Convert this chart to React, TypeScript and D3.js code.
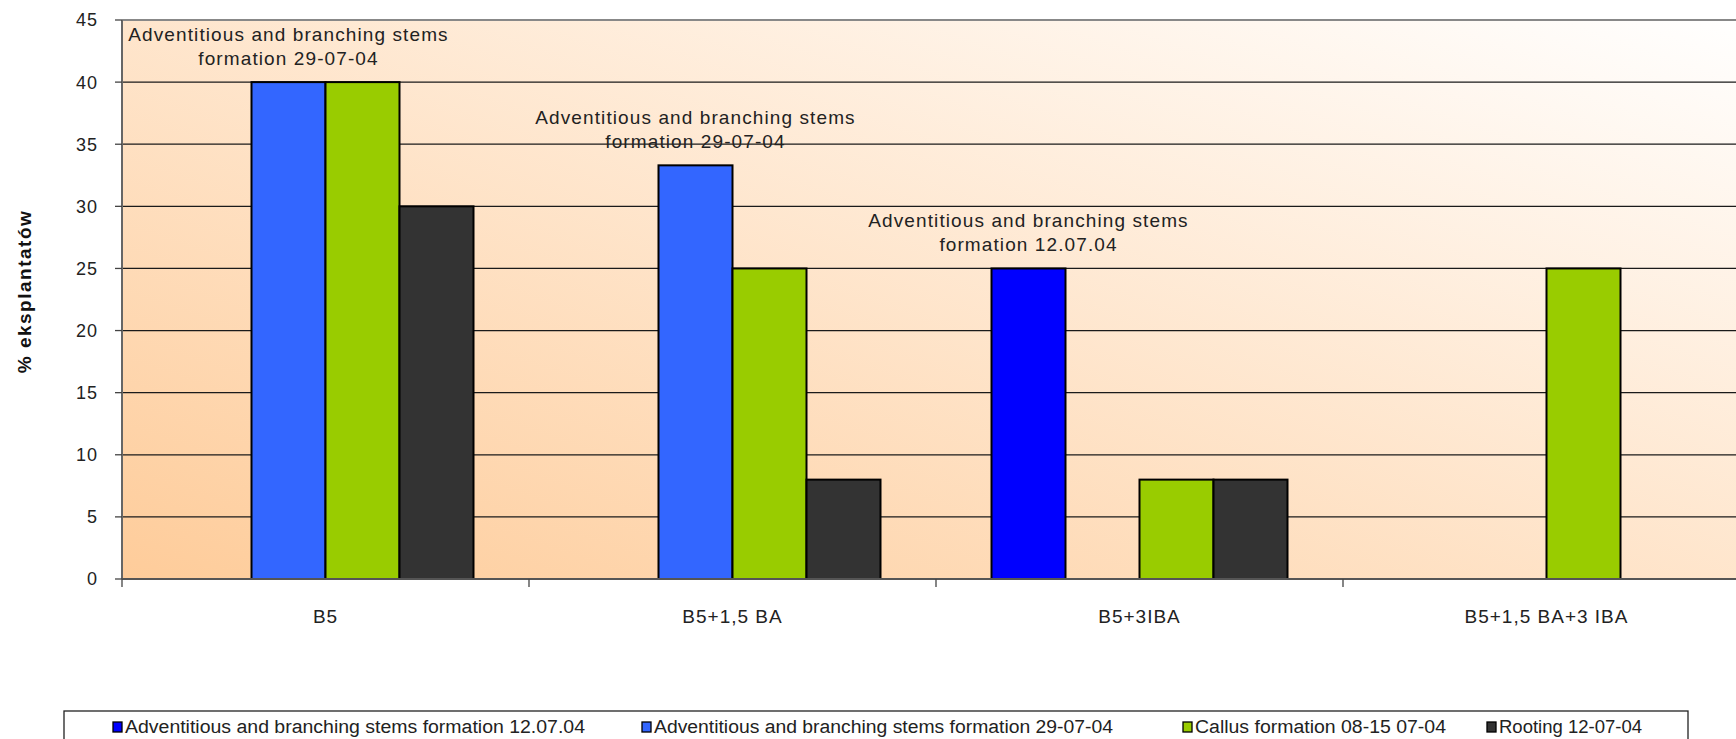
import React from "react";
import * as d3 from "d3";

const categories = ["B5", "B5+1,5 BA", "B5+3IBA", "B5+1,5 BA+3 IBA"];
const seriesNames = [
  "Adventitious and branching stems formation 12.07.04",
  "Adventitious and branching stems formation 29-07-04",
  "Callus formation 08-15 07-04",
  "Rooting 12-07-04",
];
const seriesAdv1207 = [0, 0, 25, 0];
const seriesAdv2907 = [40, 33.3, 0, 0];
const seriesCallus = [40, 25, 8, 25];
const seriesRooting = [30, 8, 8, 0];
const seriesValues = [seriesAdv1207, seriesAdv2907, seriesCallus, seriesRooting];
const seriesColors = ["#0000FF", "#3366FF", "#99CC00", "#333333"];
const yTicks = [0, 5, 10, 15, 20, 25, 30, 35, 40, 45];
// annotations: [seriesIndex, categoryIndex, line1, line2]
const annotations: [number, number, string, string][] = [
  [1, 0, "Adventitious and branching stems", "formation 29-07-04"],
  [1, 1, "Adventitious and branching stems", "formation 29-07-04"],
  [0, 2, "Adventitious and branching stems", "formation 12.07.04"],
];

const W = 1736;
const H = 739;
const left = 122;
const top = 20;
const bottom = 579;
const catW = 407;

export default function App() {
  const x = d3
    .scaleBand<string>()
    .domain(categories)
    .range([left, left + catW * categories.length])
    .padding(0);
  const bw = x.bandwidth();
  const barW = bw / 5.5;
  const inner = d3
    .scaleBand<number>()
    .domain([0, 1, 2, 3])
    .range([barW * 0.75, bw - barW * 0.75])
    .padding(0);
  const y = d3.scaleLinear().domain([0, 45]).range([bottom, top]);
  const right = W + 20;
  const font = "'Liberation Sans', Arial, sans-serif";

  const legendMarkX = [113, 642, 1183, 1487];
  const legendTextEnd = [585, 1113, 1446, 1642];

  return (
    <svg
      width={W}
      height={H}
      style={{ position: "absolute", left: 0, top: 0, display: "block" }}
      fontFamily={font}
    >
      <defs>
        <linearGradient id="bg" x1="0" y1="1" x2="1" y2="0">
          <stop offset="0" stopColor="#FECC9A" />
          <stop offset="1" stopColor="#FFFFFF" />
        </linearGradient>
      </defs>
      <rect x={0} y={0} width={W} height={H} fill="#fff" />
      <rect x={left} y={top} width={right - left} height={bottom - top} fill="url(#bg)" />
      {/* grid lines */}
      {yTicks
        .filter((t) => t > 0 && t < 45)
        .map((t) => (
          <line key={t} x1={left} x2={right} y1={y(t)} y2={y(t)} stroke="#1a1a1a" strokeWidth={1.3} />
        ))}
      <line x1={left} x2={right} y1={y(45)} y2={y(45)} stroke="#888" strokeWidth={2} />
      {/* bars */}
      {seriesValues.map((vals, si) =>
        vals.map((v, ci) =>
          v > 0 ? (
            <rect
              key={`${si}-${ci}`}
              x={(x(categories[ci]) as number) + (inner(si) as number)}
              y={y(v)}
              width={inner.bandwidth()}
              height={y(0) - y(v)}
              fill={seriesColors[si]}
              stroke="#000"
              strokeWidth={2}
            />
          ) : null
        )
      )}
      {/* axes */}
      <line x1={left} x2={left} y1={top} y2={bottom} stroke="#666" strokeWidth={2} />
      <line x1={left} x2={right} y1={bottom} y2={bottom} stroke="#555" strokeWidth={2} />
      {yTicks.map((t) => (
        <g key={t}>
          <line x1={left - 7} x2={left} y1={y(t)} y2={y(t)} stroke="#444" strokeWidth={1.3} />
          <text x={98} y={y(t)} dy="0.36em" textAnchor="end" fontSize={18} letterSpacing={1} fill="#222">
            {t}
          </text>
        </g>
      ))}
      {categories.map((c) => (
        <line
          key={"t" + c}
          x1={x(c) as number}
          x2={x(c) as number}
          y1={bottom}
          y2={bottom + 8}
          stroke="#444"
          strokeWidth={1.3}
        />
      ))}
      {categories.map((c) => (
        <text
          key={c}
          x={(x(c) as number) + bw / 2}
          y={623}
          textAnchor="middle"
          fontSize={19}
          letterSpacing={1}
          fill="#222"
        >
          {c}
        </text>
      ))}
      <text
        transform={`translate(31,${(top + bottom) / 2 - 8}) rotate(-90)`}
        textAnchor="middle"
        fontSize={19}
        letterSpacing={1.5}
        fontWeight="bold"
        fill="#111"
      >
        % eksplantatów
      </text>
      {/* annotations */}
      {annotations.map(([si, ci, l1, l2], k) => {
        const cx = (x(categories[ci]) as number) + (inner(si) as number) + inner.bandwidth() / 2;
        const yt = y(seriesValues[si][ci]);
        return (
          <g key={"a" + k} fontSize={19} letterSpacing={1.1} fill="#222" textAnchor="middle">
            <text x={cx} y={yt - 41}>{l1}</text>
            <text x={cx} y={yt - 17}>{l2}</text>
          </g>
        );
      })}
      {/* legend */}
      <rect x={64} y={711} width={1624} height={40} fill="#fff" stroke="#222" strokeWidth={1.3} />
      {seriesNames.map((n, i) => (
        <g key={n}>
          <rect x={legendMarkX[i]} y={722} width={9} height={10} fill={seriesColors[i]} stroke="#000" strokeWidth={1.3} />
          <text
            x={legendMarkX[i] + 12}
            y={733}
            fontSize={18}
            fill="#222"
            textLength={legendTextEnd[i] - legendMarkX[i] - 12}
            lengthAdjust="spacingAndGlyphs"
          >
            {n}
          </text>
        </g>
      ))}
    </svg>
  );
}
